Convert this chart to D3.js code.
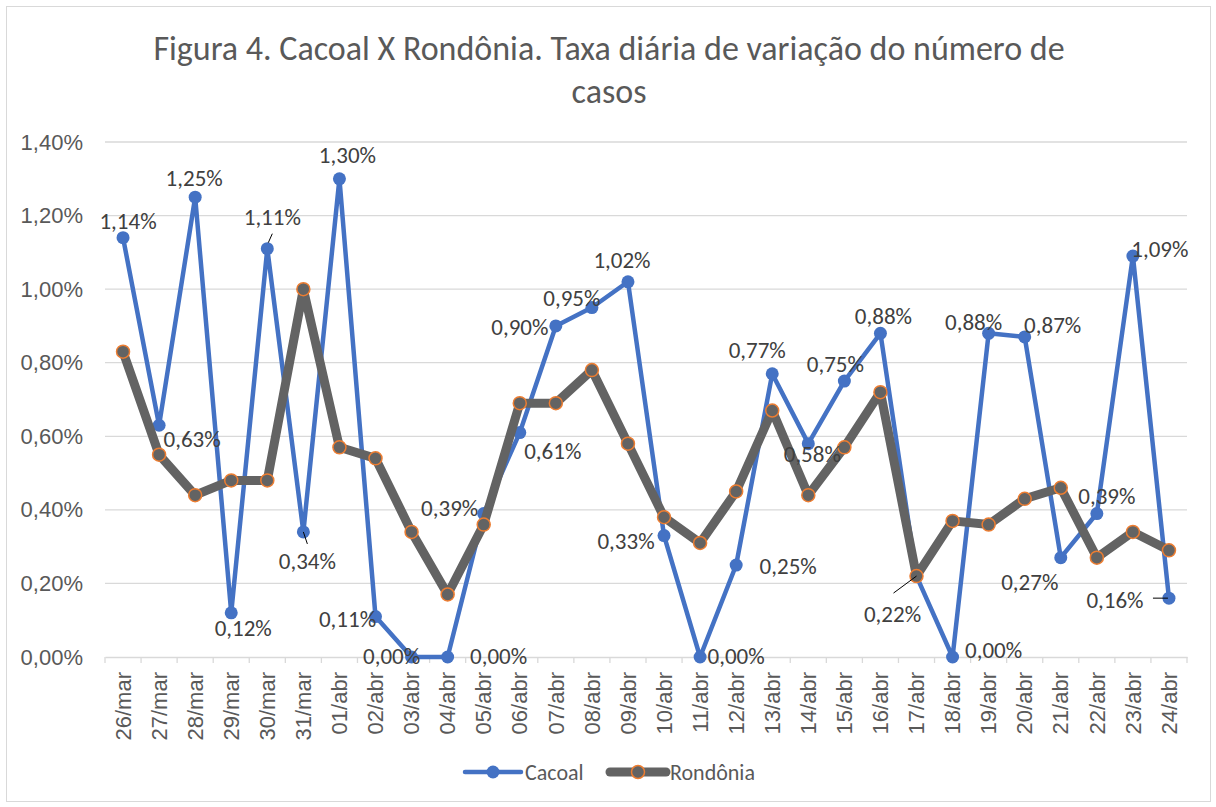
<!DOCTYPE html>
<html>
<head>
<meta charset="utf-8">
<script src="https://cdn.jsdelivr.net/npm/d3@7"></script>
<style>
  body { margin: 0; background: #fff; }
  svg { display: block; font-family: Carlito, Lato, "Liberation Sans", sans-serif; }
</style>
</head>
<body>
<svg id="chart" width="1216" height="807"></svg>
<script>
const dias = ["26/mar","27/mar","28/mar","29/mar","30/mar","31/mar","01/abr","02/abr","03/abr","04/abr",
  "05/abr","06/abr","07/abr","08/abr","09/abr","10/abr","11/abr","12/abr","13/abr","14/abr",
  "15/abr","16/abr","17/abr","18/abr","19/abr","20/abr","21/abr","22/abr","23/abr","24/abr"];

const cacoal = [1.14, 0.63, 1.25, 0.12, 1.11, 0.34, 1.30, 0.11, 0.00, 0.00,
  0.39, 0.61, 0.90, 0.95, 1.02, 0.33, 0.00, 0.25, 0.77, 0.58,
  0.75, 0.88, 0.22, 0.00, 0.88, 0.87, 0.27, 0.39, 1.09, 0.16];

const rondonia = [0.83, 0.55, 0.44, 0.48, 0.48, 1.00, 0.57, 0.54, 0.34, 0.17,
  0.36, 0.69, 0.69, 0.78, 0.58, 0.38, 0.31, 0.45, 0.67, 0.44,
  0.57, 0.72, 0.22, 0.37, 0.36, 0.43, 0.46, 0.27, 0.34, 0.29];

const yTicks = [0, 0.2, 0.4, 0.6, 0.8, 1.0, 1.2, 1.4];

// label offsets from each Cacoal point (label centre), moved by hand like in excel
const rotuloDx = [5, 33, -1, 12, 5, 4, 8, -28, -20, 51,
  -34, 33, -36, -20, -6, -38, 36, 52, -15, 4,
  -9, 3, -24, 41, -15, 28, -31, 10, 27, -54];
const rotuloDy = [-17, 13, -19, 15, -32, 29, -24, 2, -1, -1,
  -6, 18, 1, -10, -22, 5, -1, 1, -24, 10,
  -17, -18, 38, -7, -12, -12, 24, -18, -7, 2];

// leader lines: point index, start and end offsets
const chamadas = [
  [4, 1, -6, 5, -15],
  [5, 0, 0, 4, 12],
  [22, 0, 0, -23, 17],
  [29, -16, 0, -1, 0]
];

const svg = d3.select("#chart");
const W = 1216, H = 807;
const margem = { left: 105, right: 1187, top: 142, bottom: 657 };
const cinza = "#595959";

svg.append("rect")
  .attr("x", 6.5).attr("y", 6.5)
  .attr("width", W - 12).attr("height", H - 12)
  .attr("fill", "#fff").attr("stroke", "#d9d9d9");

svg.append("text")
  .attr("x", 609).attr("y", 60)
  .attr("text-anchor", "middle")
  .attr("font-size", 34).attr("fill", cinza)
  .text("Figura 4. Cacoal X Rondônia. Taxa diária de variação do número de");
svg.append("text")
  .attr("x", 609).attr("y", 103)
  .attr("text-anchor", "middle")
  .attr("font-size", 34).attr("fill", cinza)
  .text("casos");

const x = d3.scaleBand().domain(dias).range([margem.left, margem.right]);
const y = d3.scaleLinear().domain([0, 1.4]).range([margem.bottom, margem.top]);
const fmt = v => v.toFixed(2).replace(".", ",") + "%";

// grid
svg.append("g")
  .selectAll("line")
  .data(yTicks.slice(1))
  .join("line")
  .attr("x1", margem.left).attr("x2", margem.right)
  .attr("y1", d => y(d)).attr("y2", d => y(d))
  .attr("stroke", "#d9d9d9").attr("stroke-width", 1.3);

// y axis labels
const eixoY = svg.append("g")
  .attr("transform", `translate(${margem.left - 22},0)`)
  .call(d3.axisLeft(y).tickValues(yTicks).tickFormat(fmt).tickSize(0));
eixoY.select(".domain").remove();
eixoY.selectAll("text")
  .attr("font-family", null).attr("font-size", 22).attr("fill", cinza).attr("x", 0);

// x axis
const eixoX = svg.append("g")
  .attr("transform", `translate(0,${margem.bottom})`)
  .call(d3.axisBottom(x).tickSize(0));
eixoX.select(".domain").attr("stroke", "#d9d9d9").attr("stroke-width", 1.3);
eixoX.selectAll("text")
  .attr("font-family", null).attr("font-size", 22).attr("fill", cinza)
  .attr("transform", "rotate(-90)")
  .attr("text-anchor", "end")
  .attr("x", -15).attr("y", 0).attr("dy", "0.35em");
svg.append("g")
  .selectAll("line")
  .data(d3.range(dias.length + 1))
  .join("line")
  .attr("x1", i => margem.left + i * x.bandwidth())
  .attr("x2", i => margem.left + i * x.bandwidth())
  .attr("y1", margem.bottom).attr("y2", margem.bottom + 6)
  .attr("stroke", "#d9d9d9").attr("stroke-width", 1.3);

const cx = i => x(dias[i]) + x.bandwidth() / 2;
const linha = d3.line().x((d, i) => cx(i)).y(d => y(d));

// Cacoal
const azul = "#4472c4";
svg.append("path")
  .datum(cacoal)
  .attr("d", linha)
  .attr("fill", "none").attr("stroke", azul)
  .attr("stroke-width", 4.5).attr("stroke-linejoin", "round");
svg.append("g")
  .selectAll("circle")
  .data(cacoal)
  .join("circle")
  .attr("cx", (d, i) => cx(i)).attr("cy", d => y(d))
  .attr("r", 6.5).attr("fill", azul);

// Rondônia
const cinzaLinha = "#636363";
const laranja = "#ed7d31";
svg.append("path")
  .datum(rondonia)
  .attr("d", linha)
  .attr("fill", "none").attr("stroke", cinzaLinha)
  .attr("stroke-width", 9).attr("stroke-linejoin", "round");
svg.append("g")
  .selectAll("circle")
  .data(rondonia)
  .join("circle")
  .attr("cx", (d, i) => cx(i)).attr("cy", d => y(d))
  .attr("r", 6.5).attr("fill", cinzaLinha)
  .attr("stroke", laranja).attr("stroke-width", 1.5);

// rótulos
svg.append("g")
  .selectAll("text")
  .data(cacoal)
  .join("text")
  .attr("x", (d, i) => cx(i) + rotuloDx[i])
  .attr("y", (d, i) => y(d) + rotuloDy[i])
  .attr("dy", "0.36em")
  .attr("text-anchor", "middle")
  .attr("font-size", 23).attr("fill", "#404040")
  .text(d => fmt(d));

// linhas de chamada
svg.append("g")
  .selectAll("line")
  .data(chamadas)
  .join("line")
  .attr("x1", d => cx(d[0]) + d[1]).attr("y1", d => y(cacoal[d[0]]) + d[2])
  .attr("x2", d => cx(d[0]) + d[3]).attr("y2", d => y(cacoal[d[0]]) + d[4])
  .attr("stroke", "#000").attr("stroke-width", 1);

// legenda
const legenda = [
  { nome: "Cacoal", cor: azul, larg: 4.5, x0: 465 },
  { nome: "Rondônia", cor: cinzaLinha, larg: 9, x0: 610, borda: laranja }
];
const lg = svg.append("g").selectAll("g").data(legenda).join("g")
  .attr("transform", d => `translate(${d.x0},772)`);
lg.append("line").attr("x1", 0).attr("x2", 56)
  .attr("stroke", d => d.cor).attr("stroke-width", d => d.larg).attr("stroke-linecap", "round");
lg.append("circle").attr("cx", 28).attr("r", 6.5).attr("fill", d => d.cor)
  .attr("stroke", d => d.borda || "none").attr("stroke-width", 1.5);
lg.append("text").attr("x", 60).attr("dy", "0.35em")
  .attr("font-size", 22).attr("fill", cinza).text(d => d.nome);
</script>
</body>
</html>
